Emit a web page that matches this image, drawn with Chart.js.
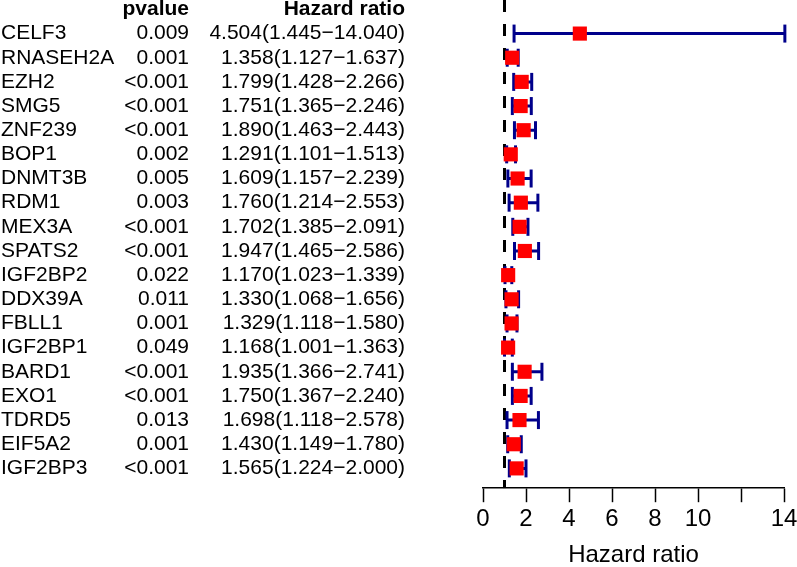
<!DOCTYPE html>
<html>
<head>
<meta charset="utf-8">
<script src="https://cdn.jsdelivr.net/npm/chart.js@4"></script>
<style>
  html, body { margin: 0; padding: 0; background: #fff; }
  #wrap { width: 797px; height: 567px; }
</style>
</head>
<body>
<div id="wrap"><canvas id="forest" width="797" height="567"></canvas></div>
<script>
// rows, top to bottom
const genes = ["CELF3", "RNASEH2A", "EZH2", "SMG5", "ZNF239", "BOP1", "DNMT3B", "RDM1", "MEX3A", "SPATS2",
  "IGF2BP2", "DDX39A", "FBLL1", "IGF2BP1", "BARD1", "EXO1", "TDRD5", "EIF5A2", "IGF2BP3"];
const pvalues = ["0.009", "0.001", "<0.001", "<0.001", "<0.001", "0.002", "0.005", "0.003", "<0.001", "<0.001",
  "0.022", "0.011", "0.001", "0.049", "<0.001", "<0.001", "0.013", "0.001", "<0.001"];
const hr = [4.504, 1.358, 1.799, 1.751, 1.890, 1.291, 1.609, 1.760, 1.702, 1.947,
  1.170, 1.330, 1.329, 1.168, 1.935, 1.750, 1.698, 1.430, 1.565];
const hrLow = [1.445, 1.127, 1.428, 1.365, 1.463, 1.101, 1.157, 1.214, 1.385, 1.465,
  1.023, 1.068, 1.118, 1.001, 1.366, 1.367, 1.118, 1.149, 1.224];
const hrHigh = [14.040, 1.637, 2.266, 2.246, 2.443, 1.513, 2.239, 2.553, 2.091, 2.586,
  1.339, 1.656, 1.580, 1.363, 2.741, 2.240, 2.578, 1.780, 2.000];
const xTicks = [0, 2, 4, 6, 8, 10, 12, 14];
const xTickLabels = ["0", "2", "4", "6", "8", "10", "", "14"];
const refLine = 1;

const yMin = -1.39, yMax = 18.82;
const navy = "#00008B";
const font = "'Liberation Sans', Arial, sans-serif";

const ciLines = [];
const caps = [];
const points = [];
genes.forEach((g, i) => {
  ciLines.push({ x: hrLow[i], y: i }, { x: hrHigh[i], y: i }, { x: hrHigh[i], y: null });
  caps.push({ x: hrLow[i], y: i }, { x: hrHigh[i], y: i });
  points.push({ x: hr[i], y: i });
});

// text table on the left, lined up with the rows of the y scale
const tablePlugin = {
  id: "table",
  afterDatasetsDraw(chart) {
    const ctx = chart.ctx;
    const y = chart.scales.y;
    ctx.save();
    ctx.fillStyle = "#000";
    ctx.textBaseline = "middle";
    ctx.font = "bold 21px " + font;
    ctx.textAlign = "right";
    ctx.fillText("pvalue", 189, y.getPixelForValue(-1));
    ctx.fillText("Hazard ratio", 405, y.getPixelForValue(-1));
    ctx.font = "21px " + font;
    genes.forEach((g, i) => {
      const py = y.getPixelForValue(i);
      ctx.textAlign = "left";
      ctx.fillText(g, 1, py);
      ctx.textAlign = "right";
      ctx.fillText(pvalues[i], 189, py);
      const txt = hr[i].toFixed(3) + "(" + hrLow[i].toFixed(3) + "\u2212" + hrHigh[i].toFixed(3) + ")";
      ctx.fillText(txt, 405, py);
    });
    ctx.restore();
  }
};

new Chart(document.getElementById("forest"), {
  type: "scatter",
  data: {
    datasets: [
      {
        data: points,
        pointStyle: "rect",
        pointRadius: 10,
        backgroundColor: "#FF0000",
        borderWidth: 0,
        order: 1,
        clip: false
      },
      {
        data: caps,
        pointStyle: "line",
        rotation: 90,
        pointRadius: 9,
        borderColor: navy,
        pointBorderWidth: 3,
        order: 2,
        clip: false
      },
      {
        data: ciLines,
        showLine: true,
        spanGaps: false,
        borderColor: navy,
        borderWidth: 3,
        pointRadius: 0,
        order: 3,
        clip: false
      },
      {
        data: [{ x: refLine, y: yMin }, { x: refLine, y: yMax }],
        showLine: true,
        borderColor: "#000",
        borderWidth: 3,
        borderDash: [12, 12],
        pointRadius: 0,
        order: 4
      }
    ]
  },
  options: {
    responsive: false,
    animation: false,
    events: [],
    layout: { autoPadding: false, padding: { left: 483, right: 13, top: 0, bottom: 0 } },
    plugins: { legend: { display: false }, tooltip: { enabled: false } },
    scales: {
      x: {
        type: "linear",
        min: 0,
        max: 14,
        afterBuildTicks: (scale) => { scale.ticks = xTicks.map(v => ({ value: v })); },
        afterFit: (scale) => { scale.paddingLeft = 0; scale.paddingRight = 0; },
        ticks: {
          autoSkip: false,
          maxRotation: 0,
          padding: 3,
          color: "#000",
          font: { family: font, size: 24 },
          callback: (v, idx) => xTickLabels[idx]
        },
        grid: { drawOnChartArea: false, drawTicks: true, tickLength: 14, tickWidth: 1.5, tickColor: "#000" },
        border: { color: "#000", width: 1.5 },
        title: {
          display: true,
          text: "Hazard ratio",
          color: "#000",
          font: { family: font, size: 24, lineHeight: 1 },
          padding: { top: 6, bottom: 0 }
        }
      },
      y: {
        type: "linear",
        display: false,
        reverse: true,
        min: yMin,
        max: yMax
      }
    }
  },
  plugins: [tablePlugin]
});
</script>
</body>
</html>
